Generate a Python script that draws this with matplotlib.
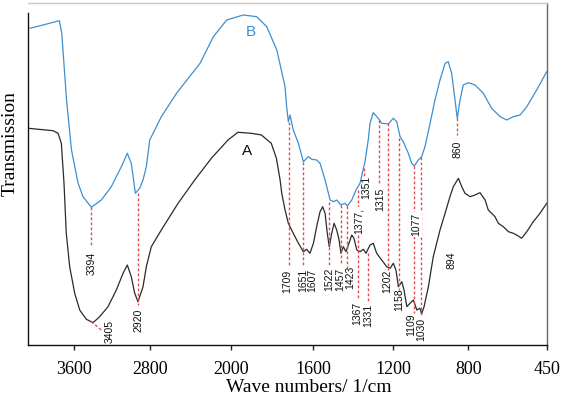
import numpy as np
import matplotlib
matplotlib.use("Agg")
import matplotlib.pyplot as plt

# ---------------- data ----------------
# Curve B (upper, blue): wavenumber (1/cm), transmission (arbitrary units)
wn_B = [4068, 3910, 3758, 3733, 3682, 3630, 3561, 3508, 3420, 3315, 3209, 3103,
        3040, 2998, 2955, 2909, 2874, 2839, 2803, 2753, 2688, 2535, 2304, 2172,
        2040, 1939, 1874, 1825, 1776, 1736, 1729, 1720, 1712, 1696, 1671, 1647,
        1623, 1606, 1582, 1565, 1540, 1515, 1499, 1482, 1462, 1441, 1429, 1407,
        1386, 1366, 1349, 1341, 1325, 1316, 1300, 1275, 1258, 1225, 1200, 1182,
        1164, 1147, 1120, 1102, 1088, 1067, 1049, 1031, 1004, 978, 951, 924,
        907, 889, 871, 859, 844, 827, 800, 770, 733, 696, 658, 629, 599, 569,
        539, 495, 450]
T_B = [316.7, 320.5, 324.3, 312.0, 245.0, 195.0, 162.0, 148.3, 137.7, 145.0,
       158.3, 178.3, 191.7, 181.7, 151.7, 156.7, 165.0, 178.3, 205.0, 215.0,
       228.3, 252.0, 281.7, 308.3, 325.0, 330.0, 328.3, 318.3, 295.0, 258.3,
       240.0, 223.3, 230.0, 215.0, 201.7, 183.3, 188.3, 185.7, 185.0, 181.7,
       165.0, 145.0, 143.3, 145.0, 140.0, 141.7, 139.0, 145.0, 155.0, 161.7,
       176.7, 183.3, 205.0, 221.7, 232.3, 226.7, 221.7, 221.0, 226.7, 223.3,
       208.3, 203.3, 191.7, 181.7, 179.0, 185.0, 188.3, 198.3, 221.7, 245.0,
       265.0, 281.7, 283.3, 271.7, 245.0, 226.7, 245.0, 260.0, 262.3, 260.0,
       251.7, 236.7, 228.3, 225.0, 228.3, 230.0, 238.3, 255.0, 273.3]

# Curve A (lower, black)
wn_A = [4086, 3825, 3772, 3737, 3709, 3685, 3649, 3596, 3543, 3473, 3402, 3332,
        3244, 3156, 3085, 3040, 2998, 2962, 2927, 2874, 2839, 2787, 2688, 2522,
        2357, 2192, 2027, 1965, 1900, 1851, 1803, 1778, 1760, 1752, 1736, 1720,
        1696, 1671, 1647, 1631, 1615, 1598, 1582, 1565, 1552, 1540, 1529, 1519,
        1507, 1495, 1482, 1470, 1461, 1449, 1436, 1421, 1407, 1396, 1382, 1366,
        1349, 1336, 1316, 1300, 1283, 1258, 1233, 1216, 1200, 1186, 1173, 1155,
        1143, 1128, 1111, 1093, 1075, 1058, 1049, 1036, 1013, 987, 951, 924, 898,
        880, 853, 835, 818, 792, 770, 748, 725, 711, 696, 681, 666, 644, 621,
        599, 577, 562, 539, 510, 480, 450]
T_A = [216.7, 214.3, 211.7, 201.7, 161.7, 111.7, 78.3, 51.7, 35.0, 25.7, 22.3,
       28.3, 38.3, 55.0, 71.7, 80.0, 68.3, 51.7, 43.3, 58.3, 78.3, 98.3, 115.0,
       141.7, 165.0, 186.7, 205.0, 212.7, 211.7, 210.0, 201.7, 186.7, 165.0,
       151.7, 135.0, 121.7, 111.7, 101.7, 93.3, 95.7, 91.7, 101.7, 118.3, 133.3,
       138.3, 131.7, 111.7, 98.3, 111.7, 121.7, 115.0, 105.0, 91.7, 98.3, 93.3,
       101.7, 110.0, 106.7, 95.0, 93.3, 95.7, 91.7, 100.0, 101.7, 91.7, 85.0,
       78.3, 76.7, 81.7, 75.0, 58.3, 63.3, 55.0, 38.3, 41.7, 45.0, 35.0, 36.7,
       31.0, 38.3, 58.3, 88.3, 115.0, 131.7, 148.3, 158.3, 166.7, 158.3, 151.7,
       148.3, 150.0, 152.3, 145.0, 135.0, 131.7, 128.3, 121.7, 118.3, 113.3,
       111.7, 109.0, 106.7, 113.3, 123.3, 131.7, 141.7]

# Peak marker lines (red dashed): start / end points
line_x0 = [3420, 3420, 2927, 1718, 1647, 1519, 1461, 1432, 1377, 1347, 1326,
           1269, 1225, 1168, 1088, 1055, 859]
line_t0 = [137.7, 23.3, 151.7, 223.3, 183.3, 143.3, 140.0, 139.0, 155.0, 177.0,
           92.0, 225.0, 222.0, 207.0, 179.0, 188.0, 226.7]
line_x1 = [3420, 3315, 2927, 1718, 1647, 1519, 1461, 1432, 1377, 1347, 1326,
           1269, 1225, 1168, 1088, 1055, 859]
line_t1 = [98.3, 15.0, 40.0, 78.3, 78.3, 80.0, 80.0, 77.0, 45.0, 167.0, 42.0,
           160.0, 75.0, 55.0, 32.0, 29.0, 210.0]

# Peak labels
peak_text = ["3394", "3405", "2920", "1709", "1651", "1607", "1522", "1457",
             "1423", "1377,", "1351", "1315", "1367", "1331", "1202", "1158",
             "1109", "1030", "1077", "894", "860"]
peak_x = [3420, 3226, 2927, 1724, 1647, 1605, 1519, 1464, 1414, 1374, 1334,
          1266, 1379, 1326, 1229, 1168, 1102, 1049, 1079, 889, 859]
peak_t = [82.0, 13.0, 25.0, 63.5, 64.5, 64.5, 66.0, 65.5, 67.5, 124.0, 158.0,
          145.5, 31.5, 30.0, 64.0, 45.0, 20.0, 16.0, 120.5, 85.0, 196.0]
boxed_labels = ["1377,", "1077"]

# Curve name labels
curve_names = ["B", "A"]
curve_name_x = [1903, 1923]
curve_name_t = [312.7, 194.0]

# Axis ticks
tick_values = [3600, 2800, 2000, 1600, 1200, 800, 450]
tick_labels = ["3600", "2800", "2000", "1600", "1200", "800", "450"]

# ---------------- axis scale (expanded below 2000 1/cm) ----------------
scale_wn = np.array([450, 800, 1200, 1600, 2000, 2800, 3600, 4086])
scale_pos = -np.array([546.7, 468.3, 393.3, 313.0, 230.7, 150.0, 74.3, 28.3])


def fwd(w):
    return np.interp(w, scale_wn, scale_pos)


def inv(u):
    return np.interp(u, scale_pos, scale_wn)


# ---------------- figure ----------------
fig = plt.figure(figsize=(5.63, 3.96), dpi=100)
ax = fig.add_axes([0.0503, 0.1288, 0.9208, 0.8624])
ax.set_xscale("function", functions=(fwd, inv))
ax.set_xlim(4086, 450)
ax.set_ylim(0, 341.5)

blue = "#3d8fd1"
ax.plot(wn_B, T_B, color=blue, lw=0.9)
ax.plot(wn_A, T_A, color="#2b2b2b", lw=0.9)

red = "#e5484a"
for x0, t0, x1, t1 in zip(line_x0, line_t0, line_x1, line_t1):
    ax.plot([x0, x1], [t0, t1], color=red, lw=1.0, ls=(0, (2.0, 1.6)))

for s, x, t in zip(peak_text, peak_x, peak_t):
    kw = {}
    if s in boxed_labels:
        kw["bbox"] = dict(facecolor="white", edgecolor="none", pad=0.5)
    ax.text(x, t, s, rotation=90, ha="center", va="center", fontsize=7.5,
            family="Liberation Sans", color="#111111", **kw)

ax.text(curve_name_x[0], curve_name_t[0], curve_names[0], color=blue,
        fontsize=11, family="Liberation Sans", ha="center", va="center")
ax.text(curve_name_x[1], curve_name_t[1], curve_names[1], color="#111111",
        fontsize=11, family="Liberation Sans", ha="center", va="center")

ax.set_xticks(tick_values)
ax.set_xticklabels(tick_labels, family="Liberation Serif", fontsize=13)
ax.xaxis.set_minor_locator(matplotlib.ticker.NullLocator())
ax.tick_params(axis="x", direction="out", length=3.5, width=1.0, pad=8,
               color="#222222")
ax.set_yticks([])

ax.spines["top"].set_color("#c8c8c8")
ax.spines["right"].set_color("#666666")
ax.spines["left"].set_color("#111111")
ax.spines["bottom"].set_color("#111111")
ax.spines["left"].set_bounds(0, 332)
for sp in ax.spines.values():
    sp.set_linewidth(1.0)

ax.set_xlabel("Wave numbers/ 1/cm", family="Liberation Serif", fontsize=14)
ax.xaxis.set_label_coords(0.5415, -0.100)
ax.set_ylabel("Transmission", family="Liberation Serif", fontsize=14)
ax.yaxis.set_label_coords(-0.018, 0.59)

fig.savefig("out.png", dpi=100, facecolor="white")
